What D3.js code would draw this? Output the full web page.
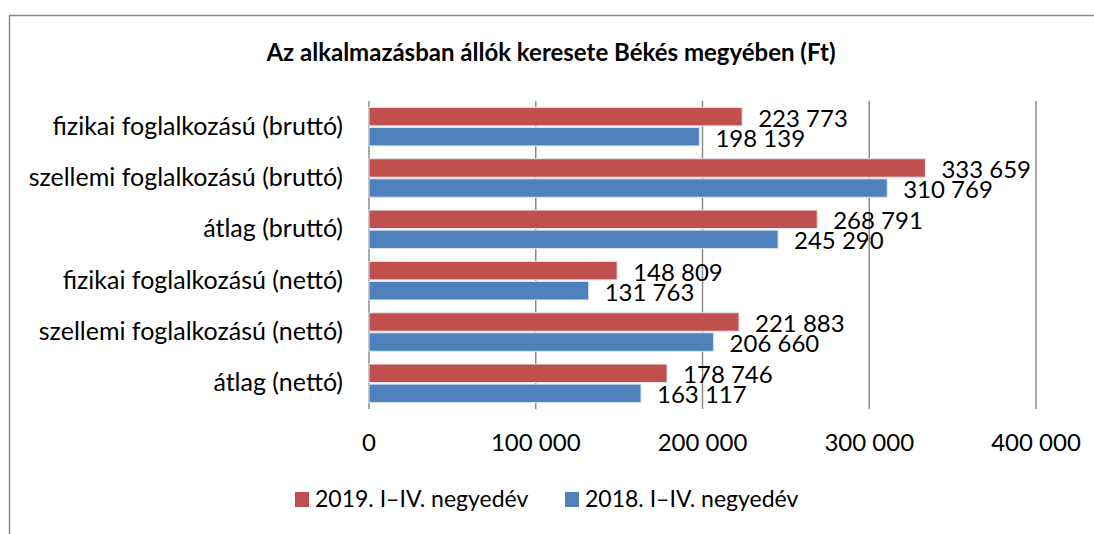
<!DOCTYPE html>
<html>
<head>
<meta charset="utf-8">
<script src="https://cdn.jsdelivr.net/npm/d3@7"></script>
<style>
  body { margin: 0; background: #fff; }
  svg { display: block; font-family: Lato, "Open Sans", sans-serif; }
</style>
</head>
<body>
<svg id="chart" width="1094" height="534"></svg>
<script>
const categories = [
  "fizikai foglalkozású (bruttó)",
  "szellemi foglalkozású (bruttó)",
  "átlag (bruttó)",
  "fizikai foglalkozású (nettó)",
  "szellemi foglalkozású (nettó)",
  "átlag (nettó)"
];
const seriesNames = ["2019. I–IV. negyedév", "2018. I–IV. negyedév"];
const values2019 = [223773, 333659, 268791, 148809, 221883, 178746];
const values2018 = [198139, 310769, 245290, 131763, 206660, 163117];
const tickValues = [0, 100000, 200000, 300000, 400000];
const colors = ["#C0504D", "#4F81BD"];

const svg = d3.select("#chart");
const fmt = (v) => d3.format(",")(v).replace(/,/g, " ");

// outer chart border
svg.append("path")
  .attr("d", "M9.5,534 V15.5 H1094")
  .attr("fill", "none")
  .attr("stroke", "#8c8c8c")
  .attr("stroke-width", 1.5);

svg.append("text")
  .attr("x", 551)
  .attr("y", 61)
  .attr("text-anchor", "middle")
  .attr("font-weight", "bold")
  .attr("font-size", 24)
  .text("Az alkalmazásban állók keresete Békés megyében (Ft)");

const x = d3.scaleLinear().domain([0, 400000]).range([369, 1036]);
const y = d3.scaleBand().domain(categories).range([101, 409]).paddingInner(0.25).paddingOuter(0.125);
const sub = d3.scaleBand().domain(seriesNames).range([0, y.bandwidth()]).paddingInner(0.08);

svg.append("g")
  .selectAll("line")
  .data(tickValues)
  .join("line")
  .attr("x1", (d) => x(d))
  .attr("x2", (d) => x(d))
  .attr("y1", 101)
  .attr("y2", 409)
  .attr("stroke", "#8c8c8c")
  .attr("stroke-width", 1.5);

svg.append("g")
  .selectAll("text")
  .data(tickValues)
  .join("text")
  .attr("x", (d) => x(d))
  .attr("y", 451)
  .attr("text-anchor", "middle")
  .attr("font-size", 24)
  .text((d) => fmt(d));

svg.append("g")
  .selectAll("text")
  .data(categories)
  .join("text")
  .attr("x", 343)
  .attr("y", (d) => y(d) + y.bandwidth() / 2 + 8)
  .attr("text-anchor", "end")
  .attr("font-size", 25)
  .text((d) => d);

const rows = categories.map((c, i) => ({ c, vals: [values2019[i], values2018[i]] }));

seriesNames.forEach((s, si) => {
  const g = svg.append("g");
  g.selectAll("rect")
    .data(rows)
    .join("rect")
    .attr("x", x(0))
    .attr("y", (d) => y(d.c) + sub(s))
    .attr("width", (d) => x(d.vals[si]) - x(0))
    .attr("height", sub.bandwidth())
    .attr("fill", colors[si])
    .attr("stroke", "#dfe6ee")
    .attr("stroke-width", 1);
  g.selectAll("text")
    .data(rows)
    .join("text")
    .attr("x", (d) => x(d.vals[si]) + 16)
    .attr("y", (d) => y(d.c) + sub(s) + sub.bandwidth() / 2 + 10)
    .attr("font-size", 24)
    .text((d) => fmt(d.vals[si]));
});

const legendX = [295, 565];
const legend = svg.append("g")
  .selectAll("g")
  .data(seriesNames)
  .join("g")
  .attr("transform", (d, i) => `translate(${legendX[i]},492)`);
legend.append("rect")
  .attr("width", 14)
  .attr("height", 15)
  .attr("fill", (d, i) => colors[i]);
legend.append("text")
  .attr("x", 20)
  .attr("y", 15)
  .attr("font-size", 23)
  .text((d) => d);
</script>
</body>
</html>
